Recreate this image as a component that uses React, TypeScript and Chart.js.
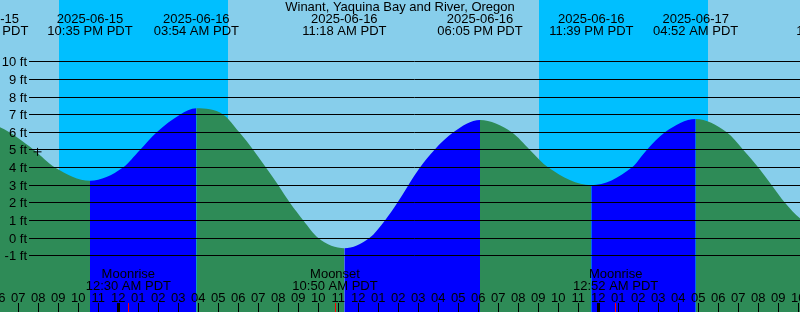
import { useEffect, useRef } from "react";
import { Chart, registerables } from "chart.js";

Chart.register(...registerables);

// All times are hours relative to 2025-06-16 00:00 PDT
const STATION = "Winant, Yaquina Bay and River, Oregon";

// Tide curve (hours, feet)
const tideTimes = [
  -6.63, -5.92, -4.22, -3.17, -1.417, 0.23, 1.08, 1.92, 3.08, 3.9,
  5.25, 6.05, 6.75, 7.38, 8.0, 8.58, 9.25, 10.0, 11.3,
  12.55, 13.33, 13.95, 14.5, 15.08, 15.8, 16.75, 18.083,
  19.67, 20.58, 21.5, 23.65,
  25.67, 26.42, 27.33, 28.867,
  30.42, 31.25, 32.0, 32.67, 33.33, 34.08, 36.03,
];
const tideHeights = [
  6.45, 6.28, 5.0, 4.0, 3.25, 4.0, 5.0, 6.0, 7.0, 7.36,
  7.0, 6.0, 5.0, 4.0, 3.0, 2.0, 1.0, 0.0, -0.58,
  0.0, 1.0, 2.0, 3.0, 4.0, 5.0, 6.0, 6.69,
  6.0, 5.0, 4.0, 3.0,
  4.0, 5.0, 6.0, 6.75,
  6.0, 5.0, 4.0, 3.0, 2.0, 1.12, -0.1,
];

// High / low tide labels
const extremeTimes = [-6.63, -1.417, 3.9, 11.3, 18.083, 23.65, 28.867, 36.03];
const extremeDates = [
  "2025-06-15", "2025-06-15", "2025-06-16", "2025-06-16",
  "2025-06-16", "2025-06-16", "2025-06-17", "2025-06-17",
];
const extremeClock = [
  "05:22 PM PDT", "10:35 PM PDT", "03:54 AM PDT", "11:18 AM PDT",
  "06:05 PM PDT", "11:39 PM PDT", "04:52 AM PDT", "12:02 PM PDT",
];

// Night bands (sunset -> sunrise)
const sunsetTimes = [-2.97, 21.03];
const sunriseTimes = [5.47, 29.48];

// Moon events
const moonTimes = [0.5, 10.833, 24.867];
const moonNames = ["Moonrise", "Moonset", "Moonrise"];
const moonClock = ["12:30 AM PDT", "10:50 AM PDT", "12:52 AM PDT"];

// Hour axis labels, starting at hour -6 (06 PM on 2025-06-15)
const hourStart = -6;
const hourLabels = [
  "06", "07", "08", "09", "10", "11",
  "12", "01", "02", "03", "04", "05", "06", "07", "08", "09", "10", "11",
  "12", "01", "02", "03", "04", "05", "06", "07", "08", "09", "10", "11",
  "12", "01", "02", "03", "04", "05", "06", "07", "08", "09", "10",
];
const midnightHours = [0, 24];

// Height axis
const heightTicks = [-1, 0, 1, 2, 3, 4, 5, 6, 7, 8, 9, 10];

// Marker
const markerTimes = [-4.04];
const markerHeights = [4.89];

const X_MIN = -5.917;
const X_MAX = 34.083;
const Y_MIN = -4.19;
const Y_MAX = 13.5;

const DAY = "#87CEEB";
const NIGHT = "#00BFFF";
const FALLING = "#2E8B57";
const RISING = "#0000FF";
const FONT = '13px "Liberation Sans", Arial, sans-serif';

export default function App() {
  const ref = useRef<HTMLCanvasElement>(null);

  useEffect(() => {
    document.body.style.margin = "0";
    const canvas = ref.current;
    if (!canvas) return;

    const tidePlugin = {
      id: "tideDecor",
      beforeDraw(chart: any) {
        const { ctx } = chart;
        const xs = chart.scales.x;
        ctx.save();
        ctx.fillStyle = DAY;
        ctx.fillRect(0, 0, chart.width, chart.height);
        ctx.fillStyle = NIGHT;
        for (let i = 0; i < sunsetTimes.length; i++) {
          const x0 = Math.round(xs.getPixelForValue(sunsetTimes[i]));
          const x1 = Math.round(xs.getPixelForValue(sunriseTimes[i]));
          ctx.fillRect(x0, 0, x1 - x0, chart.height);
        }
        ctx.restore();
      },
      afterDatasetsDraw(chart: any) {
        const { ctx } = chart;
        const xs = chart.scales.x;
        const ys = chart.scales.y;
        const W = chart.width;
        const H = chart.height;
        ctx.save();
        ctx.font = FONT;
        ctx.fillStyle = "#000";
        ctx.strokeStyle = "#000";
        ctx.lineWidth = 1;

        // height grid + labels
        for (const v of heightTicks) {
          const y = Math.floor(ys.getPixelForValue(v)) + 0.5;
          ctx.beginPath();
          ctx.moveTo(29, y);
          ctx.lineTo(W, y);
          ctx.stroke();
          ctx.textAlign = "right";
          ctx.textBaseline = "alphabetic";
          ctx.fillText(`${v} ft`, 27, y + 4);
        }

        // title and extreme labels
        ctx.textAlign = "center";
        ctx.textBaseline = "alphabetic";
        ctx.fillText(STATION, W / 2, 11);
        for (let i = 0; i < extremeTimes.length; i++) {
          const x = xs.getPixelForValue(extremeTimes[i]);
          ctx.fillText(extremeDates[i], x, 23);
          ctx.fillText(extremeClock[i], x, 35);
        }

        // moon labels
        for (let i = 0; i < moonTimes.length; i++) {
          const x = xs.getPixelForValue(moonTimes[i]);
          ctx.fillText(moonNames[i], x, 278);
          ctx.fillText(moonClock[i], x, 290);
        }

        // hour ticks and labels
        for (let i = 0; i < hourLabels.length; i++) {
          const h = hourStart + i;
          const px = xs.getPixelForValue(h);
          ctx.fillText(hourLabels[i], px, 302);
          const fx = Math.floor(px);
          if (midnightHours.includes(h)) {
            ctx.fillRect(fx - 1, 303, 3, H - 303);
          } else {
            ctx.fillRect(fx, 303, 1, H - 303);
          }
        }

        // moon event ticks
        ctx.fillStyle = "#FF0000";
        for (const t of moonTimes) {
          const fx = Math.floor(xs.getPixelForValue(t));
          ctx.fillRect(fx, 303, 1, H - 303);
        }
        ctx.restore();
      },
    };

    const chart = new Chart(canvas, {
      type: "line",
      data: {
        datasets: [
          {
            type: "scatter",
            data: markerTimes.map((t, i) => ({ x: t, y: markerHeights[i] })),
            pointStyle: "cross",
            pointRadius: 4,
            borderColor: "#000",
            backgroundColor: "#000",
            borderWidth: 1,
          } as any,
          {
            data: tideTimes.map((t, i) => ({ x: t, y: tideHeights[i] })),
            fill: "start",
            backgroundColor: FALLING,
            borderColor: "transparent",
            borderWidth: 0,
            pointRadius: 0,
            cubicInterpolationMode: "monotone",
            segment: {
              backgroundColor: (c: any) =>
                c.p1.parsed.y > c.p0.parsed.y ? RISING : FALLING,
              borderColor: "transparent",
            },
          } as any,
        ],
      },
      options: {
        responsive: false,
        animation: false,
        events: [],
        layout: { padding: 0, autoPadding: false },
        plugins: {
          legend: { display: false },
          tooltip: { enabled: false },
        },
        scales: {
          x: { type: "linear", display: false, min: X_MIN, max: X_MAX },
          y: { type: "linear", display: false, min: Y_MIN, max: Y_MAX },
        },
      } as any,
      plugins: [tidePlugin],
    });

    return () => chart.destroy();
  }, []);

  return (
    <div style={{ width: 800, height: 312 }}>
      <canvas ref={ref} width={800} height={312} style={{ display: "block" }} />
    </div>
  );
}
